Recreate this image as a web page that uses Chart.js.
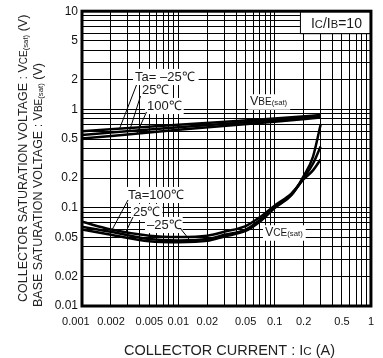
<!DOCTYPE html>
<html>
<head>
<meta charset="utf-8">
<script src="https://cdn.jsdelivr.net/npm/chart.js@4.4.1/dist/chart.umd.min.js"></script>
<style>
  html, body { margin: 0; padding: 0; background: #fff; }
  #wrap { width: 383px; height: 358px; position: relative; }
</style>
</head>
<body>
<div id="wrap"><canvas id="c" width="383" height="358"></canvas></div>
<script>
// Collector current points (A)
const vceCurrent = [0.001, 0.002, 0.005, 0.01, 0.02, 0.03, 0.05, 0.07, 0.1, 0.15, 0.2, 0.25, 0.3];
const vbeCurrent = [0.001, 0.01, 0.1, 0.3];

// VCE(sat) (V) at IC/IB = 10
const vce100 = [0.072, 0.060, 0.052, 0.0505, 0.052, 0.057, 0.065, 0.080, 0.105, 0.14, 0.195, 0.24, 0.31];
const vce25  = [0.064, 0.057, 0.048, 0.0465, 0.048, 0.053, 0.060, 0.075, 0.101, 0.137, 0.20, 0.28, 0.42];
const vceM25 = [0.060, 0.053, 0.0455, 0.0445, 0.046, 0.051, 0.058, 0.072, 0.099, 0.135, 0.21, 0.33, 0.70];

// VBE(sat) (V) at IC/IB = 10
const vbeM25 = [0.60, 0.70, 0.81, 0.88];
const vbe25  = [0.55, 0.66, 0.78, 0.855];
const vbe100 = [0.505, 0.62, 0.75, 0.83];

// Axis tick labels
const xTickLabels = [0.001, 0.002, 0.005, 0.01, 0.02, 0.05, 0.1, 0.2, 0.5, 1];
const yTickLabels = [0.01, 0.02, 0.05, 0.1, 0.2, 0.5, 1, 2, 5, 10];

const FONT = '"Liberation Sans", Arial, Helvetica, sans-serif';

function decadeGrid(lo, hi) {
  const out = [];
  for (let e = Math.round(Math.log10(lo)); e < Math.round(Math.log10(hi)); e++) {
    for (let m = 1; m <= 9; m++) out.push(parseFloat((m * Math.pow(10, e)).toPrecision(6)));
  }
  out.push(hi);
  return out;
}
function labelFor(v, list) {
  const hit = list.find(l => Math.abs(v - l) / l < 1e-6);
  return hit === undefined ? '' : String(hit);
}
function pts(xs, ys) { return xs.map((x, i) => ({ x, y: ys[i] })); }

// Mixed-size text: parts = [[text, scale, dy], ...]
function richWidth(ctx, parts, size) {
  let w = 0;
  for (const p of parts) { ctx.font = (size * (p[1] || 1)) + 'px ' + FONT; w += ctx.measureText(p[0]).width; }
  return w;
}
function richText(ctx, parts, x, y, size) {
  let cx = x;
  for (const p of parts) {
    ctx.font = (size * (p[1] || 1)) + 'px ' + FONT;
    ctx.fillText(p[0], cx, y + (p[2] || 0));
    cx += ctx.measureText(p[0]).width;
  }
}

// In-plot labels (left x, middle y, font size)
const notes = [
  { parts: [['Ta= –25℃']], x: 135, y: 77, size: 13, padR: 4 },
  { parts: [['25℃']], x: 142, y: 90, size: 13, padR: 2 },
  { parts: [['100℃']], x: 147, y: 106, size: 13, padR: 2 },
  { parts: [['V'], ['BE', 0.8], ['(sat)', 0.62, 1]], x: 250, y: 102, size: 12.5, padR: 3 },
  { parts: [['Ta=100℃']], x: 128, y: 195, size: 13, padR: 2 },
  { parts: [['25℃']], x: 133, y: 212, size: 13, padR: 2 },
  { parts: [['–25℃']], x: 147, y: 225, size: 13, padR: 1 },
  { parts: [['V'], ['CE', 0.8], ['(sat)', 0.62, 1]], x: 265, y: 233, size: 12.5, padR: 3 }
];
// Leader lines: from pixel start to a point on the curve given in data units
const leaders = [
  { from: [136.5, 85], to: [0.00245, 0.635] },
  { from: [140.5, 96], to: [0.0031, 0.595] },
  { from: [146.5, 112], to: [0.0037, 0.565] },
  { from: [128, 200], to: [0.00205, 0.0595] },
  { from: [133, 217], to: [0.0028, 0.0545] },
  { from: [180, 228], to: [0.0137, 0.0446] }
];

const decorations = {
  id: 'decorations',
  afterDatasetsDraw(chart) {
    const ctx = chart.ctx, a = chart.chartArea;
    const xs = chart.scales.x, ys = chart.scales.y;
    ctx.save();
    ctx.textBaseline = 'middle';
    ctx.textAlign = 'left';
    for (const n of notes) {
      const w = richWidth(ctx, n.parts, n.size);
      ctx.fillStyle = '#fff';
      ctx.fillRect(n.x - 2, n.y - n.size * 0.62, w + 2 + n.padR, n.size * 1.24);
    }
    ctx.fillStyle = '#1a1a1a';
    for (const n of notes) richText(ctx, n.parts, n.x, n.y, n.size);

    ctx.strokeStyle = '#000';
    ctx.lineWidth = 1;
    for (const l of leaders) {
      ctx.beginPath();
      ctx.moveTo(l.from[0], l.from[1]);
      ctx.lineTo(xs.getPixelForValue(l.to[0]), ys.getPixelForValue(l.to[1]));
      ctx.stroke();
    }

    // IC/IB condition box in the top-right corner
    const bx = a.right - 71, by = a.top, bw = 71, bh = 22;
    ctx.fillStyle = '#fff';
    ctx.fillRect(bx, by, bw, bh);
    ctx.beginPath();
    ctx.moveTo(bx + 0.5, by); ctx.lineTo(bx + 0.5, by + bh + 0.5); ctx.lineTo(a.right, by + bh + 0.5);
    ctx.stroke();
    ctx.fillStyle = '#1a1a1a';
    const cond = [['I'], ['C', 0.8], ['/I'], ['B', 0.8], ['=10']];
    const cw = richWidth(ctx, cond, 14);
    ctx.textBaseline = 'alphabetic';
    richText(ctx, cond, bx + (bw - cw) / 2 + 1, by + 16.5, 14);

    // Heavy frame
    ctx.lineWidth = 3;
    ctx.strokeRect(a.left, a.top, a.right - a.left, a.bottom - a.top);
    ctx.restore();
  },
  afterDraw(chart) {
    const ctx = chart.ctx, a = chart.chartArea;
    ctx.save();
    ctx.fillStyle = '#222';
    ctx.textBaseline = 'alphabetic';
    const xt = [['COLLECTOR CURRENT : I'], ['C', 0.8], [' (A)']];
    const xw = richWidth(ctx, xt, 14.5);
    richText(ctx, xt, (a.left + a.right) / 2 + 3 - xw / 2, 355, 14.5);

    const y1 = [['COLLECTOR SATURATION VOLTAGE : V'], ['CE', 0.8], ['(sat)', 0.62, 1], [' (V)']];
    const y2 = [['BASE SATURATION VOLTAGE : V'], ['BE', 0.8], ['(sat)', 0.62, 1], [' (V)']];
    ctx.save();
    ctx.translate(27, 302); ctx.rotate(-Math.PI / 2);
    richText(ctx, y1, 0, 0, 12.5);
    ctx.restore();
    ctx.save();
    ctx.translate(42, 307); ctx.rotate(-Math.PI / 2);
    richText(ctx, y2, 0, 0, 12.5);
    ctx.restore();
    ctx.restore();
  }
};

const lineStyle = { borderColor: '#000', borderWidth: 2.5, pointRadius: 0, fill: false, cubicInterpolationMode: 'monotone' };

new Chart(document.getElementById('c'), {
  type: 'line',
  data: {
    datasets: [
      { label: 'VBE(sat) Ta=-25', data: pts(vbeCurrent, vbeM25), ...lineStyle },
      { label: 'VBE(sat) Ta=25', data: pts(vbeCurrent, vbe25), ...lineStyle },
      { label: 'VBE(sat) Ta=100', data: pts(vbeCurrent, vbe100), ...lineStyle },
      { label: 'VCE(sat) Ta=100', data: pts(vceCurrent, vce100), ...lineStyle },
      { label: 'VCE(sat) Ta=25', data: pts(vceCurrent, vce25), ...lineStyle },
      { label: 'VCE(sat) Ta=-25', data: pts(vceCurrent, vceM25), ...lineStyle }
    ]
  },
  options: {
    responsive: false,
    animation: false,
    devicePixelRatio: 1,
    layout: { padding: { top: 11, right: 8, left: 0, bottom: 0 } },
    plugins: { legend: { display: false }, tooltip: { enabled: false } },
    scales: {
      x: {
        type: 'logarithmic', min: 0.001, max: 1,
        afterBuildTicks: s => { s.ticks = decadeGrid(0.001, 1).map(v => ({ value: v })); },
        afterFit: s => { s.height = 52; },
        grid: { color: '#000', lineWidth: 1, drawTicks: false },
        border: { display: false },
        ticks: {
          autoSkip: false, maxRotation: 0, padding: 9, color: '#111',
          font: { family: FONT, size: 11 },
          // first label sits a little left of its grid line
          callback: (v, i) => (i === 0 ? labelFor(v, xTickLabels) + '    ' : labelFor(v, xTickLabels))
        }
      },
      y: {
        type: 'logarithmic', min: 0.01, max: 10,
        afterBuildTicks: s => { s.ticks = decadeGrid(0.01, 10).map(v => ({ value: v })); },
        afterFit: s => { s.width = 82; },
        grid: { color: '#000', lineWidth: 1, drawTicks: false },
        border: { display: false },
        ticks: {
          autoSkip: false, padding: 4, color: '#111',
          font: { family: FONT, size: 12 },
          callback: v => labelFor(v, yTickLabels)
        }
      }
    }
  },
  plugins: [decorations]
});
</script>
</body>
</html>
